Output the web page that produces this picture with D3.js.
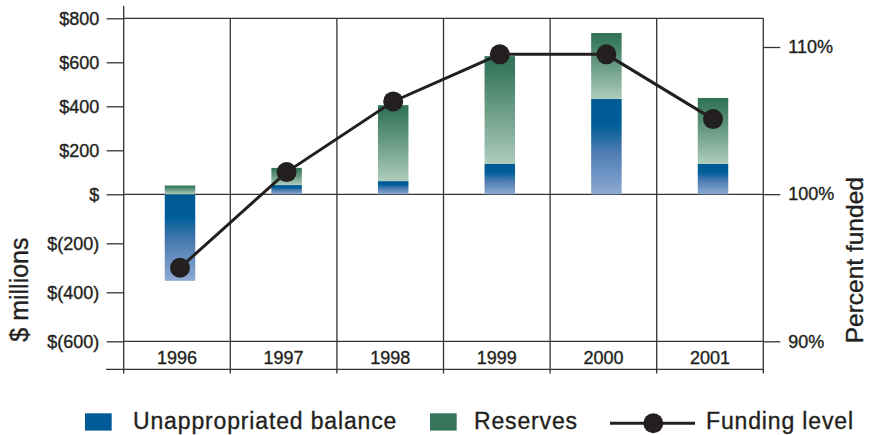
<!DOCTYPE html>
<html>
<head>
<meta charset="utf-8">
<script src="https://cdn.jsdelivr.net/npm/d3@7"></script>
<style>
  html, body { margin: 0; padding: 0; background: #fff; }
  svg { display: block; }
  text { font-family: "Liberation Sans", Arial, Helvetica, sans-serif; fill: #231f20; stroke: #231f20; stroke-width: 0.35px; }
</style>
</head>
<body>
<svg id="chart" width="869" height="435"></svg>
<script>
// Fiscal years shown on the x axis
const years = ["1996", "1997", "1998", "1999", "2000", "2001"];
// Unappropriated balance, $ millions
const unappropriated = [-353, 42, 60, 138, 433, 138];
// Reserves, $ millions
const reserves = [40, 78, 345, 490, 300, 300];
// Funding level, percent funded
const fundingLevel = [95.0, 101.5, 106.3, 109.5, 109.5, 105.1];
// Axis ticks
const dollarTicks = [-600, -400, -200, 0, 200, 400, 600, 800];
const percentTicks = [90, 100, 110];

const svg = d3.select("#chart");
const ink = "#231f20";
const gridColor = "#333";

const left = 123.7, right = 763.3;
const x = d3.scaleBand().domain(years).range([left, right]).padding(0);
const barW = 30.5;
const barOffset = 3;
const cx = d => x(d) + x.bandwidth() / 2 + barOffset;

// Dollar axis is stretched differently above and below zero
const yL = d3.scaleLinear().domain([-600, 0, 800]).range([341.3, 194.3, 18.3]);
const yR = d3.scaleLinear().domain([90, 110]).range([341.3, 47]);

// Gradients for the two bar series
const defs = svg.append("defs");
function grad(id, stops) {
  const g = defs.append("linearGradient").attr("id", id)
    .attr("x1", 0).attr("y1", 0).attr("x2", 0).attr("y2", 1);
  stops.forEach(([o, c]) => g.append("stop").attr("offset", o).attr("stop-color", c));
}
grad("gBlue", [[0, "#005995"], [0.27, "#005e98"], [0.55, "#4b7bb0"], [1, "#8eaad3"]]);
grad("gGreen", [[0, "#2f7256"], [0.12, "#3a7a5e"], [0.55, "#71a18a"], [1, "#aecdbd"]]);

// Frame and grid
const lines = svg.append("g").attr("stroke", gridColor).attr("stroke-width", 1.3).attr("fill", "none");
lines.append("line").attr("x1", left).attr("x2", left).attr("y1", 6).attr("y2", 373.5);
years.slice(1).forEach(d => {
  lines.append("line").attr("x1", x(d)).attr("x2", x(d)).attr("y1", yL(800)).attr("y2", 373.5);
});
lines.append("line").attr("x1", right).attr("x2", right).attr("y1", yL(800)).attr("y2", 373.5);
lines.append("line").attr("x1", left).attr("x2", right).attr("y1", yL(800)).attr("y2", yL(800));
lines.append("line").attr("x1", left).attr("x2", right).attr("y1", yL(0)).attr("y2", yL(0));
lines.append("line").attr("x1", left).attr("x2", right).attr("y1", yL(-600)).attr("y2", yL(-600));
lines.append("line").attr("x1", 106).attr("x2", right).attr("y1", 369.3).attr("y2", 369.3);

// Left axis
const fmtDollar = v => v === 0 ? "$" : (v < 0 ? `$(${-v})` : `$${v}`);
const axL = svg.append("g").attr("transform", `translate(${left},0)`)
  .call(d3.axisLeft(yL).tickValues(dollarTicks).tickFormat(fmtDollar).tickSize(17).tickPadding(7.5));
axL.select(".domain").remove();
axL.selectAll(".tick line").attr("stroke", gridColor).attr("stroke-width", 1.3);
axL.selectAll(".tick text").attr("font-size", 18).attr("font-family", null).attr("fill", ink);

// Right axis
const axR = svg.append("g").attr("transform", `translate(${right},0)`)
  .call(d3.axisRight(yR).tickValues(percentTicks).tickFormat(d => d + "%").tickSize(17).tickPadding(8));
axR.select(".domain").remove();
axR.selectAll(".tick line").attr("stroke", gridColor).attr("stroke-width", 1.3);
axR.selectAll(".tick text").attr("font-size", 18).attr("font-family", null).attr("fill", ink);

// Year labels
svg.append("g").selectAll("text").data(years).join("text")
  .attr("x", d => x(d) + x.bandwidth() / 2)
  .attr("y", 364)
  .attr("text-anchor", "middle")
  .attr("font-size", 18)
  .text(d => d);

// Stacked bars
const rows = years.map((yr, i) => {
  const u = unappropriated[i], r = reserves[i];
  const rBase = u >= 0 ? u : 0;
  return { yr, u, r, rBase };
});
const bars = svg.append("g");
bars.selectAll("rect.unapp").data(rows).join("rect").attr("class", "unapp")
  .attr("x", d => cx(d.yr) - barW / 2)
  .attr("width", barW)
  .attr("y", d => Math.min(yL(0), yL(d.u)))
  .attr("height", d => Math.abs(yL(d.u) - yL(0)))
  .attr("fill", "url(#gBlue)");
bars.selectAll("rect.res").data(rows).join("rect").attr("class", "res")
  .attr("x", d => cx(d.yr) - barW / 2)
  .attr("width", barW)
  .attr("y", d => yL(d.rBase + d.r))
  .attr("height", d => yL(d.rBase) - yL(d.rBase + d.r))
  .attr("fill", "url(#gGreen)");

// Funding level line with markers
const pts = years.map((yr, i) => [cx(yr), yR(fundingLevel[i])]);
svg.append("path").attr("d", d3.line()(pts))
  .attr("fill", "none").attr("stroke", ink).attr("stroke-width", 3);
svg.append("g").selectAll("circle").data(pts).join("circle")
  .attr("cx", d => d[0]).attr("cy", d => d[1]).attr("r", 10).attr("fill", ink);

// Axis titles
svg.append("text")
  .attr("transform", "translate(28.3,341.7) rotate(-90)")
  .attr("font-size", 25)
  .text("$ millions");
svg.append("text")
  .attr("transform", "translate(863.3,343.3) rotate(-90)")
  .attr("font-size", 24.5)
  .text("Percent funded");

// Legend
const lg = svg.append("g");
lg.append("rect").attr("x", 85).attr("y", 413.3).attr("width", 26.7).attr("height", 17.3).attr("fill", "#005a96");
lg.append("text").attr("x", 133).attr("y", 428.5).attr("font-size", 23).attr("letter-spacing", 0.85).text("Unappropriated balance");
lg.append("rect").attr("x", 430).attr("y", 413.3).attr("width", 26.7).attr("height", 17.3).attr("fill", "#35765a");
lg.append("text").attr("x", 474).attr("y", 428.5).attr("font-size", 23).attr("letter-spacing", 0.85).text("Reserves");
lg.append("line").attr("x1", 610).attr("x2", 695).attr("y1", 423.3).attr("y2", 423.3).attr("stroke", ink).attr("stroke-width", 3);
lg.append("circle").attr("cx", 653.3).attr("cy", 423.3).attr("r", 10).attr("fill", ink);
lg.append("text").attr("x", 706).attr("y", 428.5).attr("font-size", 23).attr("letter-spacing", 0.85).text("Funding level");
</script>
</body>
</html>
